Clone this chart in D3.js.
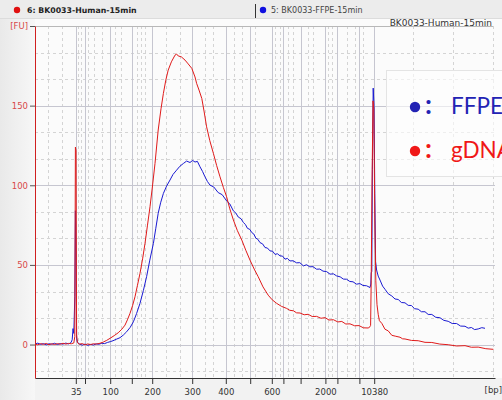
<!DOCTYPE html>
<html>
<head>
<meta charset="utf-8">
<script src="https://cdn.jsdelivr.net/npm/d3@7"></script>
<style>
body { margin: 0; background: #f3f3f3; }
svg { display: block; }
</style>
</head>
<body>
<svg id="chart" width="502" height="400"></svg>
<script>
// ladder: size (bp) and migration time (s)
var ladderBp = [35, 50, 100, 150, 200, 300, 400, 500, 600, 700, 1000, 2000, 3000, 7000, 10380];
var ladderSec = [45.7, 48.0, 54.3, 59.7, 64.8, 74.8, 83.2, 89.3, 94.7, 97.6, 101.9, 108.1, 111.1, 116.6, 120.3];
var labeledBp = [35, 100, 200, 300, 400, 600, 2000, 10380];
var minorSec = [38.8, 42.2, 46.3, 47.0, 48.8, 50.3, 52.2, 55.5, 57.0, 60.9, 62.0, 63.0, 68.2, 71.75, 78.0, 79.9,
	85.3, 87.3, 90.5, 95.5, 96.75, 98.8, 100.1, 103.8, 105.1, 108.8, 109.7, 113.4, 115.5, 117.6, 130, 140, 150];
var fuMajor = [0, 50, 100, 150];
var fuMinor = [-16.7, 16.7, 33.3, 66.7, 83.3, 116.7, 133.3, 166.7, 183.3];

var sampleNames = ["6: BK0033-Human-15min", "5: BK0033-FFPE-15min"];
var legendNames = ["FFPE", "gDNA"];

// traces [seconds, FU]
var ffpeTrace = [[35.5,0.3],[36.2,0.9],[36.9,0.1],[37.6,0.6],[38.3,-0.2],[39.0,0.5],[39.7,0.2],[40.4,0.8],[41.1,0.0],[41.8,0.6],
	[42.5,0.3],[43.2,0.9],[43.9,0.4],[44.5,1.2],[44.8,3],[45.0,10],[45.2,7],[45.45,30],[45.6,84],[45.75,55],[45.9,4],[46.1,1.5],
	[46.6,0.4],[47.3,-0.4],[48.0,0.3],[48.7,-0.5],[49.4,0.1],[50.1,-0.3],[50.8,0.4],[51.5,0.2],[52.2,0.8],[52.9,0.6],[53.6,1.3],
	[54.3,1.8],[55.0,2.4],[55.8,3.3],[56.75,4.3],[57.6,6],[58.4,8],[59.3,10.8],[60.1,14.3],[60.9,19.5],[61.75,25.9],[62.6,34],
	[63.4,42.6],[64.2,53],[65.1,63.5],[65.7,73],[66.3,82.4],[66.9,89],[67.6,94.9],[68.4,99.5],[69.25,103.3],[70.0,106.8],
	[70.9,109.5],[71.7,111.9],[72.6,113.7],[73.4,115.2],[74.25,114.3],[74.9,115.6],[75.5,114.6],[76.1,115.0],[76.75,111.6],
	[77.4,108.6],[78.0,105.3],[78.6,102.4],[79.25,100.1],[80.2,98.9],[81.3,95.4],[82.3,94.1],[83.4,90.2],[84.2,88.3],[85.1,83.9],
	[85.7,82.6],[86.3,80.1],[87.0,79.0],[87.6,76.6],[88.1,75.4],[88.6,73.0],[89.2,72.3],[89.7,70.3],[90.2,69.4],[90.7,66.8],
	[91.2,66.1],[91.75,64.0],[92.4,63.2],[93.0,60.9],[93.6,60.6],[94.25,58.8],[94.9,58.6],[95.5,56.6],[96.1,57.0],[96.75,55.7],
	[97.4,55.5],[98.0,53.6],[98.6,54.1],[99.25,52.5],[100.0,52.6],[100.9,51.3],[101.7,51.4],[102.6,49.4],[103.4,50.1],
	[104.2,48.8],[105.0,48.9],[105.9,47.3],[106.7,47.4],[107.5,46.1],[108.4,45.8],[109.25,44.2],[110.1,44.4],[110.9,43.1],
	[111.8,42.5],[112.6,41.1],[113.4,41.0],[114.2,39.6],[115.0,39.4],[115.9,37.9],[116.7,38.3],[117.5,37.1],[118.4,36.9],
	[119.25,35.8],[119.45,38],[119.55,45],[119.7,46],[119.85,110],[120.05,161],[120.25,150],[120.45,95],[120.65,52],
	[120.9,46.8],[121.3,43],[121.75,40.5],[122.4,36.7],[123.0,34.7],[123.8,31.9],[124.7,30.5],[125.5,28.6],[126.3,28.3],
	[127.1,26.4],[128.0,26.2],[128.8,24.6],[129.6,24.5],[130.4,22.5],[131.3,22.2],[132.1,20.6],[133.0,20.6],[133.8,18.9],
	[134.7,18.9],[135.7,17.1],[136.7,16.9],[137.7,15.2],[138.8,14.6],[139.8,13.2],[140.9,13.2],[141.9,11.6],[143.0,11.5],
	[143.8,10.3],[144.6,10.7],[145.4,9.4],[146.3,9.8],[147.2,10.6],[148.0,10.2]];

var gdnaTrace = [[35.5,0.4],[36.2,-0.2],[36.9,0.6],[37.6,0.1],[38.3,0.7],[39.0,-0.1],[39.7,0.5],[40.4,0.0],[41.1,0.6],[41.8,0.2],
	[42.5,0.8],[43.2,0.3],[43.9,0.7],[44.6,0.5],[45.2,1.0],[45.45,5],[45.6,124],[45.75,122],[45.9,6],[46.1,1.2],[46.6,0.2],
	[47.3,0.6],[48.0,-0.2],[48.7,0.4],[49.4,0.0],[50.1,0.5],[50.8,0.3],[51.75,0.8],[52.6,1.6],[53.4,2.6],[54.25,3.9],[55.3,5.6],
	[56.3,7.4],[57.2,9.6],[58.0,12.2],[58.6,15.5],[59.25,19.6],[59.9,24.5],[60.5,30],[61.1,37],[61.75,44.7],[62.4,53.8],
	[63.0,63.5],[63.6,74.5],[64.25,86.5],[64.9,100.2],[65.5,113.7],[66.3,134.7],[67.0,148],[67.6,157.7],[68.2,166],[68.8,172.3],
	[69.6,177.5],[70.5,181.7],[70.9,182.4],[71.3,181.2],[72.1,180.6],[73.0,178.6],[73.8,176.2],[74.7,173.4],[75.5,168],
	[75.9,164],[76.5,159.8],[77.2,154.5],[77.8,146],[78.4,136.7],[79.2,128],[80.1,120],[80.9,112.5],[81.75,105.3],[82.6,98.6],
	[83.4,92.8],[84.2,85.2],[85.1,78.2],[86.1,71.5],[87.2,65.6],[88.2,59.2],[89.25,53],[90.3,47.4],[91.3,42.6],[92.5,36.2],
	[93.8,31],[94.8,28.1],[95.9,25.9],[97.1,24.0],[98.4,22.7],[99.2,21.5],[100.1,21.2],[100.9,19.9],[101.75,19.8],[102.8,18.7],
	[103.8,19.0],[104.8,17.6],[105.9,17.7],[107.0,16.5],[108.0,16.9],[109.0,15.4],[110.1,15.6],[111.2,14.2],[112.2,14.5],
	[113.2,12.9],[114.25,13.0],[115.4,11.8],[116.5,11.9],[117.6,10.5],[118.8,10.4],[119.25,11.2],[119.4,12],[119.55,40],
	[119.75,100],[120.0,153],[120.2,148],[120.45,80],[120.7,40],[121.0,25],[121.3,19],[121.6,15],[122.2,13.3],[123.0,9.6],
	[123.8,8.6],[124.7,5.8],[125.7,5.2],[126.75,4.6],[127.4,3.6],[128.0,3.5],[129.6,2.6],[131.3,2.4],[133.0,1.4],[134.7,1.3],
	[136.7,0.3],[138.8,-0.1],[140.9,-0.9],[143.0,-0.7],[144.6,-1.7],[146.3,-1.6],[148.2,-2.6],[150.1,-3.0]];

var svg = d3.select("#chart");
var plotL = 35, plotR = 495, plotT = 26, plotB = 378;

var x = d3.scaleLinear().domain([35.5, 150.5]).range([plotL, plotR]);
var y = d3.scaleLinear().domain([-21, 200]).range([plotB, plotT]);

// backgrounds
var defs = svg.append("defs");
var lg = defs.append("linearGradient").attr("id","leftbg").attr("x1","0").attr("x2","1");
lg.append("stop").attr("offset","0").attr("stop-color","#e9e9e9");
lg.append("stop").attr("offset","1").attr("stop-color","#f7f7f7");
svg.append("rect").attr("width",502).attr("height",400).attr("fill","#f2f2f2");
svg.append("rect").attr("x",0).attr("y",18).attr("width",plotL).attr("height",382).attr("fill","url(#leftbg)");
svg.append("rect").attr("x",plotL).attr("y",18).attr("width",502-plotL).attr("height",plotB-18).attr("fill","#fbfbfb");
svg.append("rect").attr("width",502).attr("height",18).attr("fill","#ececec");
svg.append("line").attr("x1",0).attr("x2",502).attr("y1",18.5).attr("y2",18.5).attr("stroke","#dcdcdc");

// grid
var grid = svg.append("g");
grid.selectAll(".vminor").data(minorSec).enter().append("line")
	.attr("x1",function(d){return Math.round(x(d))+0.5}).attr("x2",function(d){return Math.round(x(d))+0.5})
	.attr("y1",plotT).attr("y2",plotB)
	.attr("stroke","#d4d4d4").attr("stroke-dasharray","3,3");
grid.selectAll(".hminor").data(fuMinor).enter().append("line")
	.attr("x1",plotL).attr("x2",plotR)
	.attr("y1",function(d){return Math.round(y(d))+0.5}).attr("y2",function(d){return Math.round(y(d))+0.5})
	.attr("stroke","#d4d4d4").attr("stroke-dasharray","3,3");
grid.selectAll(".vmajor").data(ladderSec).enter().append("line")
	.attr("x1",function(d){return Math.round(x(d))+0.5}).attr("x2",function(d){return Math.round(x(d))+0.5})
	.attr("y1",plotT).attr("y2",plotB)
	.attr("stroke","#c6c6d0");
grid.selectAll(".hmajor").data(fuMajor).enter().append("line")
	.attr("x1",plotL).attr("x2",plotR)
	.attr("y1",function(d){return Math.round(y(d))+0.5}).attr("y2",function(d){return Math.round(y(d))+0.5})
	.attr("stroke","#c6c6d0");
grid.append("line").attr("x1",plotL).attr("x2",493).attr("y1",Math.round(y(200))+0.5).attr("y2",Math.round(y(200))+0.5)
	.attr("stroke","#b8b8b8");

// legend box
var lgd = svg.append("g");
lgd.append("rect").attr("x",386.5).attr("y",70.5).attr("width",130).attr("height",106)
	.attr("fill","#ffffff").attr("fill-opacity",0.6).attr("stroke","#e4e4e4");
var legendColors = ["#2323b4", "#f01818"];
legendNames.forEach(function(n,i){
	var cy = 107 + i*44;
	lgd.append("circle").attr("cx",415).attr("cy",cy).attr("r",5.2).attr("fill",legendColors[i]);
	lgd.append("text").attr("x",425).attr("y",cy+7).attr("font-family","Lato").attr("font-weight","bold").attr("font-size",27)
		.attr("fill",legendColors[i]).text(":");
	lgd.append("text").attr("x",451).attr("y",cy+7).attr("font-family","Lato").attr("font-size",22.5)
		.attr("fill",legendColors[i]).text(n);
});

// traces
var line = d3.line().x(function(d){return x(d[0])}).y(function(d){return y(d[1])});
svg.append("path").datum(ffpeTrace).attr("d",line).attr("fill","none").attr("stroke","#1a1ad2").attr("stroke-width",1);
svg.append("path").datum(gdnaTrace).attr("d",line).attr("fill","none").attr("stroke","#e01a1a").attr("stroke-width",1);

// x axis
var xAxis = d3.axisBottom(x).tickValues(ladderSec).tickSize(6).tickSizeOuter(0)
	.tickFormat(function(d,i){ return labeledBp.indexOf(ladderBp[i])>=0 ? ladderBp[i] : ""; });
var gx = svg.append("g").attr("transform","translate(0,"+plotB+")").call(xAxis);
gx.select(".domain").attr("stroke","#333");
gx.selectAll(".tick line").attr("stroke","#333");
gx.selectAll("text").attr("font-family","DejaVu Sans").attr("font-size",8.5).attr("fill","#333").attr("dy","0.9em");
svg.append("text").attr("x",502).attr("y",plotB+15).attr("text-anchor","end")
	.attr("font-family","DejaVu Sans").attr("font-size",8.5).attr("fill","#333").text("[bp]");

// y axis
var yAxis = d3.axisLeft(y).tickValues([0,50,100,150,200]).tickSize(5).tickSizeOuter(0)
	.tickFormat(function(d){ return d===200 ? "[FU]" : d; });
var gy = svg.append("g").attr("transform","translate("+plotL+",0)").call(yAxis);
gy.select(".domain").attr("stroke","#d02020");
gy.selectAll(".tick line").attr("stroke","#555");
gy.selectAll("text").attr("font-family","DejaVu Sans").attr("font-size",8.5).attr("fill","#d84848").attr("x",-7);

// header
var hdr = svg.append("g");
hdr.append("circle").attr("cx",17).attr("cy",10).attr("r",3.2).attr("fill","#e01010");
hdr.append("text").attr("x",27).attr("y",13).attr("font-family","DejaVu Sans").attr("font-size",7.8).attr("font-weight","bold")
	.attr("fill","#222").text(sampleNames[0]);
hdr.append("line").attr("x1",255.5).attr("x2",255.5).attr("y1",4).attr("y2",18).attr("stroke","#333");
hdr.append("circle").attr("cx",263).attr("cy",10).attr("r",3.2).attr("fill","#1010e0");
hdr.append("text").attr("x",271).attr("y",13).attr("font-family","DejaVu Sans").attr("font-size",8)
	.attr("fill","#444").text(sampleNames[1]);
svg.append("text").attr("x",492).attr("y",26).attr("text-anchor","end").attr("font-family","DejaVu Sans")
	.attr("font-size",9).attr("fill","#333").text("BK0033-Human-15min");
</script>
</body>
</html>
